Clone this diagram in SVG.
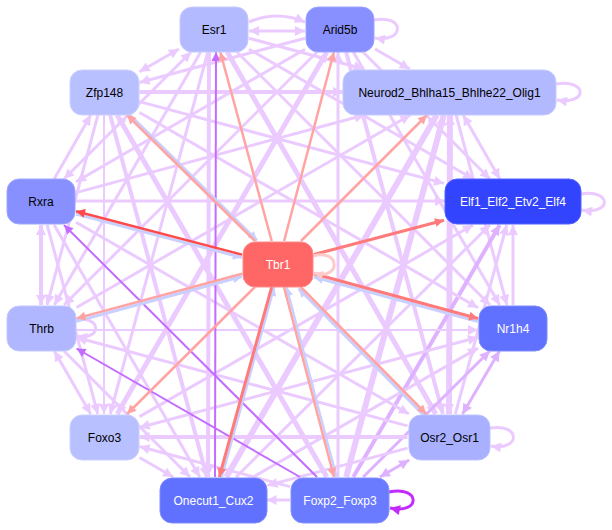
<svg xmlns="http://www.w3.org/2000/svg" width="612" height="530" viewBox="0 0 612 530">
<style>
#edges line,#edges path{fill:none}
.w2{stroke-width:2}.w25{stroke-width:2.5}.w3{stroke-width:3}.w4{stroke-width:4}.w5{stroke-width:5}.w6{stroke-width:6}
.p{stroke:#ebcbff}.p.a{marker-end:url(#mP)}.p.b{marker-start:url(#mP);marker-end:url(#mP)}
.q{stroke:#dfb2ff}.q.a{marker-end:url(#mQ)}.q.b{marker-start:url(#mQ);marker-end:url(#mQ)}
.v{stroke:#c46cff}.v.a{marker-end:url(#mV)}
.vd{stroke:#c22cff}.vd.a{marker-end:url(#mVd)}
.s{stroke:#ffa3a3}.s.a{marker-end:url(#mS)}
.r{stroke:#ff4a4a}.r.a{marker-end:url(#mR)}
.r2{stroke:#ff7a7a}.r2.a{marker-end:url(#mR2)}
.bl{stroke:#c9d0ff}.bl.a{marker-end:url(#mB)}
.pk{stroke:#ffcaca}.pk.a{marker-end:url(#mK)}
.node rect{stroke-width:1}
.node text{font-family:"Liberation Sans",Arial,sans-serif;font-size:12px;text-anchor:middle;dominant-baseline:central}
.dk text{fill:#ffffff}.lt text{fill:#000000}
</style>
<defs>
<marker id="mP" viewBox="0 0 10 10" refX="10" refY="5" markerUnits="userSpaceOnUse" markerWidth="12" markerHeight="10" orient="auto-start-reverse"><path d="M0,0L10,5L0,10z" fill="#ebcbff"/></marker>
<marker id="mQ" viewBox="0 0 10 10" refX="10" refY="5" markerUnits="userSpaceOnUse" markerWidth="12" markerHeight="10" orient="auto-start-reverse"><path d="M0,0L10,5L0,10z" fill="#dfb2ff"/></marker>
<marker id="mV" viewBox="0 0 10 10" refX="10" refY="5" markerUnits="userSpaceOnUse" markerWidth="11" markerHeight="9" orient="auto-start-reverse"><path d="M0,0L10,5L0,10z" fill="#c46cff"/></marker>
<marker id="mVd" viewBox="0 0 10 10" refX="10" refY="5" markerUnits="userSpaceOnUse" markerWidth="12" markerHeight="10" orient="auto-start-reverse"><path d="M0,0L10,5L0,10z" fill="#c22cff"/></marker>
<marker id="mS" viewBox="0 0 10 10" refX="10" refY="5" markerUnits="userSpaceOnUse" markerWidth="11" markerHeight="9" orient="auto-start-reverse"><path d="M0,0L10,5L0,10z" fill="#ffa3a3"/></marker>
<marker id="mR" viewBox="0 0 10 10" refX="10" refY="5" markerUnits="userSpaceOnUse" markerWidth="11" markerHeight="9" orient="auto-start-reverse"><path d="M0,0L10,5L0,10z" fill="#ff4a4a"/></marker>
<marker id="mR2" viewBox="0 0 10 10" refX="10" refY="5" markerUnits="userSpaceOnUse" markerWidth="11" markerHeight="9" orient="auto-start-reverse"><path d="M0,0L10,5L0,10z" fill="#ff7a7a"/></marker>
<marker id="mB" viewBox="0 0 10 10" refX="10" refY="5" markerUnits="userSpaceOnUse" markerWidth="11" markerHeight="9" orient="auto-start-reverse"><path d="M0,0L10,5L0,10z" fill="#c9d0ff"/></marker>
<marker id="mK" viewBox="0 0 10 10" refX="10" refY="5" markerUnits="userSpaceOnUse" markerWidth="11" markerHeight="9" orient="auto-start-reverse"><path d="M0,0L10,5L0,10z" fill="#ffcaca"/></marker>
</defs>
<rect x="0" y="0" width="612" height="530" fill="#ffffff"/>
<g id="edges">
<line class="p w3 b" x1="249" y1="31" x2="305" y2="31"/>
<path class="p w3 a" d="M249,22 Q277,10 305,22"/>
<line class="p w3 a" x1="249" y1="38.3" x2="363.8" y2="69"/>
<line class="p w3 a" x1="249" y1="49.2" x2="473.2" y2="179"/>
<line class="p w3 a" x1="237" y1="52" x2="490" y2="305"/>
<line class="p w5 a" x1="227.2" y1="52" x2="435.8" y2="414"/>
<line class="p w4 a" x1="209" y1="52" x2="208" y2="477"/>
<line class="p w3 a" x1="207.8" y1="52" x2="110.2" y2="414"/>
<line class="p w3 a" x1="200.7" y1="52" x2="54.3" y2="305"/>
<line class="p w3 b" x1="191" y1="52" x2="64" y2="179"/>
<line class="p w3 b" x1="179" y1="49" x2="139.5" y2="71.7"/>
<line class="p w3 a" x1="375" y1="49" x2="409.8" y2="69"/>
<line class="p w3 a" x1="363" y1="52" x2="490" y2="179"/>
<line class="p w3 a" x1="353.3" y1="52" x2="499.7" y2="305"/>
<line class="p w4 a" x1="346.1" y1="52" x2="442.9" y2="414"/>
<line class="p w3 a" x1="338" y1="477" x2="338" y2="52"/>
<line class="p w5 b" x1="326.8" y1="52" x2="117.2" y2="414"/>
<line class="p w3 a" x1="317" y1="52" x2="64" y2="305"/>
<line class="p w3 a" x1="305" y1="49.2" x2="76" y2="181.8"/>
<line class="p w3 a" x1="305" y1="38.3" x2="139.5" y2="82.5"/>
<line class="p w3 b" x1="463.2" y1="115" x2="499.8" y2="179"/>
<line class="p w3 a" x1="456.1" y1="115" x2="506.9" y2="305"/>
<line class="p w6 b" x1="450" y1="115" x2="449" y2="414"/>
<line class="p w6 a" x1="346.2" y1="477" x2="443.8" y2="115"/>
<line class="p w6 a" x1="226.3" y1="477" x2="436.7" y2="115"/>
<line class="p w3 a" x1="76.5" y1="307.5" x2="410.3" y2="115"/>
<line class="p w3 a" x1="76" y1="192.6" x2="364.5" y2="115"/>
<line class="p w4 a" x1="139.5" y1="92" x2="343" y2="92"/>
<line class="p w3 a" x1="513" y1="305" x2="513" y2="225"/>
<line class="p w3 a" x1="455.3" y1="414" x2="506.7" y2="225"/>
<line class="q w4 a" x1="353.3" y1="477" x2="499.7" y2="225"/>
<line class="p w3 a" x1="236.1" y1="477" x2="489.9" y2="225"/>
<line class="p w3 a" x1="139.5" y1="416.6" x2="473" y2="225"/>
<line class="p w3 a" x1="76" y1="201" x2="445" y2="201"/>
<line class="p w3 a" x1="139.5" y1="101.6" x2="444" y2="183.4"/>
<line class="q w3 b" x1="462.5" y1="414" x2="499.5" y2="351"/>
<line class="q w3 a" x1="363.2" y1="477" x2="489.8" y2="351"/>
<line class="p w3 a" x1="253.2" y1="477" x2="478" y2="348.1"/>
<line class="p w3 b" x1="139.5" y1="427.5" x2="478" y2="337.3"/>
<line class="p w2 a" x1="76.5" y1="330" x2="478" y2="330"/>
<line class="p w3 a" x1="139.5" y1="112.5" x2="478" y2="307.8"/>
<line class="q w3 b" x1="379.8" y1="477" x2="409.2" y2="460"/>
<line class="p w3 a" x1="407.5" y1="448.1" x2="267.5" y2="485.4"/>
<line class="p w4 a" x1="407.5" y1="437" x2="139.5" y2="437"/>
<line class="p w3 a" x1="407.5" y1="425.9" x2="76.5" y2="337.5"/>
<line class="p w3 a" x1="76" y1="222.2" x2="409" y2="414"/>
<line class="p w3 a" x1="290" y1="500" x2="266.5" y2="500"/>
<line class="p w3 a" x1="290" y1="486.6" x2="139.5" y2="446.5"/>
<line class="p w5 a" x1="326.8" y1="477" x2="117.2" y2="115"/>
<line class="p w3 a" x1="139.5" y1="457.5" x2="173.2" y2="477"/>
<line class="p w3 a" x1="64" y1="351" x2="190" y2="477"/>
<line class="p w3 a" x1="54.2" y1="225" x2="199.8" y2="477"/>
<line class="p w4 a" x1="110.1" y1="115" x2="206.9" y2="477"/>
<line class="p w3 b" x1="54.3" y1="351" x2="90.7" y2="414"/>
<line class="p w3 a" x1="47.2" y1="225" x2="97.8" y2="414"/>
<line class="p w2 a" x1="104" y1="115" x2="104" y2="414"/>
<line class="p w4 b" x1="41" y1="305" x2="41" y2="225"/>
<line class="p w3 a" x1="97.9" y1="115" x2="47.1" y2="305"/>
<line class="p w3 a" x1="54.2" y1="179" x2="90.8" y2="115"/>
<path class="p w3 a" d="M374,20 C405,14 405,43 375,38"/>
<path class="p w3 a" d="M556,84 C588,79 588,105 557,100"/>
<path class="p w3 a" d="M581,194 C612,189 612,215 582,210"/>
<path class="p w3 a" d="M76,320 C102,315 102,341 77,336"/>
<path class="p w3 a" d="M490,428 C521,423 521,451 491,446"/>
<line class="v w2 a" x1="215" y1="477" x2="216" y2="52"/>
<line class="v w2 a" x1="300" y1="477" x2="76.5" y2="348.5"/>
<line class="v w2 a" x1="317" y1="477" x2="64" y2="225"/>
<path class="vd w3 a" d="M389,492 C421,485 421,515 390,508"/>
<line class="s w25 a" x1="271.7" y1="241" x2="220.3" y2="52"/>
<line class="s w25 a" x1="284.1" y1="241" x2="333.9" y2="52"/>
<line class="s w25 a" x1="301" y1="241" x2="427" y2="115"/>
<line class="r2 w3 a" x1="314" y1="254.5" x2="444" y2="220.2"/>
<line class="bl w3 a" x1="478" y1="321.5" x2="314" y2="277"/>
<line class="r2 w3 a" x1="314" y1="273.8" x2="478" y2="318.5"/>
<line class="bl w3 a" x1="424" y1="415.5" x2="298.5" y2="288.5"/>
<line class="s w25 a" x1="300.7" y1="287" x2="426.3" y2="414"/>
<line class="bl w25 a" x1="336.5" y1="477" x2="286.5" y2="287"/>
<line class="s w25 a" x1="284" y1="287" x2="334" y2="477"/>
<line class="bl w25 a" x1="221.8" y1="477" x2="274.2" y2="287"/>
<line class="r2 w3 a" x1="271.7" y1="287" x2="219.3" y2="477"/>
<line class="s w25 a" x1="254.9" y1="287" x2="127.1" y2="414"/>
<line class="bl w3 a" x1="76.5" y1="321.2" x2="242" y2="276.5"/>
<line class="s w25 a" x1="242" y1="273.7" x2="76.5" y2="318.4"/>
<line class="bl w3 a" x1="76" y1="214" x2="242" y2="257.5"/>
<line class="r w25 a" x1="242" y1="254.6" x2="76" y2="211.2"/>
<line class="bl w3 a" x1="129" y1="114" x2="257" y2="240.5"/>
<line class="s w25 a" x1="255" y1="241" x2="127" y2="115"/>
<path class="pk w3 a" d="M313,256 C341,248 341,281 314,273"/>
</g>
<g id="Esr1" class="node lt"><rect x="180" y="7" width="68" height="45" rx="12" fill="#b3baff" stroke="#c6cbff"/><text x="214" y="29.5">Esr1</text></g>
<g id="Arid5b" class="node lt"><rect x="306" y="7" width="68" height="45" rx="12" fill="#8890ff" stroke="#a0a6ff"/><text x="340" y="29.5">Arid5b</text></g>
<g id="Zfp148" class="node lt"><rect x="70" y="70" width="69" height="45" rx="12" fill="#b9c0ff" stroke="#cbd0ff"/><text x="104.5" y="92.5">Zfp148</text></g>
<g id="Neurod2_Bhlha15_Bhlhe22_Olig1" class="node lt"><rect x="343" y="70" width="213" height="45" rx="12" fill="#b2b9ff" stroke="#c6cbff"/><text x="449.5" y="92.5">Neurod2_Bhlha15_Bhlhe22_Olig1</text></g>
<g id="Rxra" class="node lt"><rect x="7" y="179" width="68" height="45" rx="12" fill="#8890ff" stroke="#a0a6ff"/><text x="41" y="201.5">Rxra</text></g>
<g id="Elf1_Elf2_Etv2_Elf4" class="node dk"><rect x="445" y="179" width="136" height="45" rx="12" fill="#3344ff" stroke="#5462ff"/><text x="513" y="201.5">Elf1_Elf2_Etv2_Elf4</text></g>
<g id="Tbr1" class="node dk"><rect x="243" y="242" width="70" height="45" rx="12" fill="#ff6666" stroke="#ff8a8a"/><text x="278" y="264.5">Tbr1</text></g>
<g id="Thrb" class="node lt"><rect x="7" y="306" width="69" height="45" rx="12" fill="#b0b7ff" stroke="#c4c9ff"/><text x="41.5" y="328.5">Thrb</text></g>
<g id="Nr1h4" class="node dk"><rect x="479" y="306" width="68" height="45" rx="12" fill="#6070ff" stroke="#7e8bff"/><text x="513" y="328.5">Nr1h4</text></g>
<g id="Foxo3" class="node lt"><rect x="70" y="415" width="69" height="45" rx="12" fill="#b9c0ff" stroke="#cbd0ff"/><text x="104.5" y="437.5">Foxo3</text></g>
<g id="Osr2_Osr1" class="node lt"><rect x="409" y="415" width="81" height="45" rx="12" fill="#a8b0ff" stroke="#bcc2ff"/><text x="449.5" y="437.5">Osr2_Osr1</text></g>
<g id="Onecut1_Cux2" class="node dk"><rect x="160" y="478" width="107" height="45" rx="12" fill="#6070ff" stroke="#7e8bff"/><text x="213.5" y="500.5">Onecut1_Cux2</text></g>
<g id="Foxp2_Foxp3" class="node dk"><rect x="291" y="478" width="98" height="45" rx="12" fill="#6b7bff" stroke="#8692ff"/><text x="340" y="500.5">Foxp2_Foxp3</text></g>
</svg>
